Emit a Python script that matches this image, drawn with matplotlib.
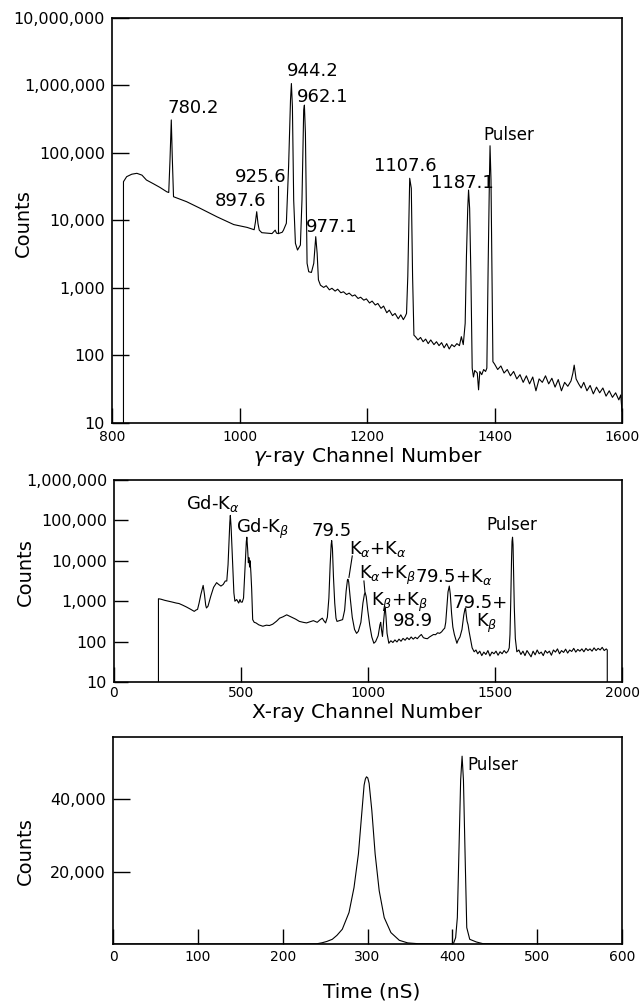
import matplotlib
matplotlib.use("Agg")
import matplotlib.pyplot as plt

plt.rcParams['font.family'] = ['DejaVu Sans']
plt.rcParams['mathtext.fontset'] = 'dejavusans'

# --- gamma-ray spectrum (channel, counts) ---
gamma_channel = [818, 818, 823, 831, 839, 847, 854, 865, 875, 886, 889, 891, 893, 894.5, 896.5,
                 917, 938, 965, 991, 1012, 1023, 1025, 1027, 1029, 1031, 1035, 1051, 1056, 1058,
                 1061, 1067, 1069, 1073.5, 1077, 1080, 1081.4, 1083, 1085, 1087.7, 1091, 1095.5,
                 1098, 1100.7, 1101.8, 1103.4, 1106, 1108.6, 1112.8, 1116.5, 1119.6, 1121.8, 1123.8,
                 1127, 1132, 1136, 1141, 1145, 1150, 1154, 1159, 1163, 1168, 1172, 1177, 1181, 1186,
                 1190, 1195, 1199, 1204, 1208, 1213, 1217, 1222, 1226, 1231, 1235, 1240, 1244, 1249,
                 1253, 1257, 1260, 1262, 1264, 1266, 1267, 1269.5, 1271.5, 1273.6,
                 1276, 1280, 1284, 1288, 1292, 1296, 1300, 1305, 1309, 1313, 1317, 1321, 1325, 1329,
                 1333, 1337, 1341, 1345, 1348, 1351, 1354, 1356, 1358, 1359.3, 1361, 1363, 1365,
                 1367, 1369, 1373, 1375, 1377, 1380, 1383, 1386, 1388, 1390, 1392, 1393, 1394.5,
                 1396, 1397.5, 1400, 1405, 1410, 1415, 1420, 1425, 1430, 1435, 1440, 1445, 1450,
                 1455, 1460, 1465, 1470, 1475, 1480, 1485, 1490, 1495, 1500, 1505, 1510, 1515, 1520,
                 1523, 1525, 1528, 1532, 1536, 1540, 1545, 1550, 1555, 1560, 1565, 1570, 1575, 1580,
                 1585, 1590, 1595, 1598, 1600]
gamma_counts = [10, 37600, 44600, 48500, 50000, 47000, 39800, 35000, 31000, 26600, 26000, 80000,
                309000, 90000, 22500, 19000, 15200, 11300, 8700, 7900, 7300, 9500, 13500, 9000,
                7200, 6600, 6400, 7200, 6500, 6400, 6700, 7200, 9100, 62700, 610000, 1070000,
                485000, 20000, 4600, 3650, 4330, 20000, 434000, 512000, 196000, 2320, 1740, 1700,
                2320, 5760, 3270, 1320,
                1100, 1020, 1080, 940, 990, 900, 960, 850, 880, 800, 840, 760, 790, 700,
                730, 660, 690, 600, 640, 560, 590, 500, 540, 430, 470, 390, 420, 350,
                400, 340, 380, 420, 1500, 15000, 42200, 30000, 1500, 200,
                190, 170, 185, 160, 175, 150, 170, 145, 160, 140, 155, 130, 150, 125,
                145, 135, 150, 140, 190, 145, 300, 3000, 15000, 28300, 15000, 1500, 65,
                48, 60, 55, 31, 58, 52, 62, 58, 65, 2000, 40000, 128000, 40000,
                1500, 81, 75, 62, 70, 55, 62, 50, 58, 45, 52, 40, 50,
                38, 48, 30, 45, 40, 50, 38, 46, 34, 44, 30, 40, 35, 42,
                55, 72, 45, 38, 33, 40, 30, 36, 27, 34, 28, 33, 25, 30,
                24, 28, 22, 26, 15]

gamma_labels = ['780.2', '897.6', '925.6', '944.2', '962.1', '977.1', '1107.6', '1187.1', 'Pulser']

# --- X-ray spectrum (channel, counts) ---
xray_channel = [175, 175, 185, 200, 215, 230, 245, 256, 270, 285, 300, 316, 322, 329, 335, 342,
                351, 356, 361, 364, 370, 381, 392, 404, 412, 421, 430, 438, 444, 449, 453, 456,
                458, 461, 464, 468, 472, 476, 483, 491, 496, 500, 505, 510, 514, 518, 521, 523,
                526, 529, 531, 534, 536, 539, 542, 546, 552, 559, 570, 586, 600, 612, 625, 640,
                652, 665, 680, 690, 700, 715, 730, 745, 758, 772, 785, 800, 812, 820, 826, 833,
                840, 846, 851, 855, 857, 860, 864, 869, 874, 878, 900, 908, 914, 919, 921, 924,
                930, 938, 947, 955, 962, 972, 980, 986, 989, 993, 999, 1007, 1015, 1023, 1030,
                1040, 1047, 1050, 1053, 1057, 1062, 1066, 1068, 1071, 1075, 1082, 1090, 1098,
                1106, 1114, 1122, 1130, 1138, 1146, 1154, 1162, 1170, 1178, 1186, 1194, 1202,
                1210, 1218, 1226, 1234, 1242, 1250, 1258, 1266, 1274, 1282, 1290, 1297, 1302,
                1306, 1311, 1315, 1320, 1324, 1329, 1334, 1340, 1346, 1350, 1355, 1362, 1370,
                1377, 1382, 1384, 1387, 1390, 1394, 1398, 1404, 1410, 1418, 1425, 1432, 1440,
                1448, 1456, 1464, 1472, 1480, 1488, 1496, 1504, 1512, 1520, 1528, 1536, 1544,
                1551, 1556, 1559, 1562, 1565, 1567, 1569, 1571, 1573, 1576, 1580, 1586, 1594,
                1602, 1610, 1618, 1626, 1634, 1642, 1650, 1658, 1666, 1674, 1682, 1690, 1698,
                1706, 1714, 1722, 1730, 1738, 1746, 1754, 1762, 1770, 1778, 1786, 1794, 1802,
                1810, 1818, 1826, 1834, 1842, 1850, 1858, 1866, 1874, 1882, 1890, 1898, 1906,
                1914, 1922, 1930, 1938, 1942, 1942]
xray_counts = [10, 1150, 1120, 1050, 1000, 950, 900, 875, 800, 720, 640, 560, 600, 630, 900, 1470,
               2460, 1500, 800, 680, 750, 1330, 2200, 2880, 2600, 2370, 2600, 3160, 3160, 8000,
               30000, 90000, 133000, 70000, 25000, 6000, 1600, 1000, 1100, 900, 1100, 950, 950,
               1200, 4000, 15000, 30000, 38400, 20000, 9000, 12000, 7000, 10000, 5000, 2000, 350,
               300, 290, 260, 240, 255, 250, 270, 320, 380, 410, 460, 430, 400, 360, 316, 300,
               290, 310, 330, 300, 350, 380, 330, 290, 400, 1200, 8000, 25000, 31600, 20000,
               4000, 900, 380, 316, 350, 600, 1800, 3300, 3500, 3000, 1200, 400, 200, 160, 180,
               300, 900, 1500, 1620, 1300, 600, 250, 130, 91, 100, 140, 260, 300, 200, 134, 350,
               650, 680, 400, 160, 91, 105, 95, 110, 98, 115, 102, 120, 108, 125, 112, 130, 115,
               128, 118, 135, 150, 125, 120, 118, 130, 140, 150, 148, 165, 160, 175, 200, 215,
               300, 800, 1700, 2370, 1500, 500, 230, 150, 110, 91, 110, 130, 200, 450, 650, 680,
               450, 320, 260, 178, 110, 70, 56, 62, 50, 58, 45, 55, 48, 60, 44, 55, 50, 58, 46,
               56, 50, 60, 52, 58, 70, 150, 1000, 10000, 30000, 38400, 25000, 6000, 700, 120, 56,
               62, 48, 58, 45, 60, 50, 42, 58, 47, 62, 50, 55, 45, 60, 52, 58, 46, 62, 55, 66,
               50, 60, 54, 65, 52, 62, 57, 68, 55, 64, 58, 66, 56, 68, 60, 66, 58, 70, 60, 68,
               62, 72, 60, 66, 62, 10]

xray_labels = ['Gd-K$_{\\alpha}$', 'Gd-K$_{\\beta}$', '79.5', 'K$_{\\alpha}$+K$_{\\alpha}$',
               'K$_{\\alpha}$+K$_{\\beta}$', 'K$_{\\beta}$+K$_{\\beta}$', '98.9',
               '79.5+K$_{\\alpha}$', '79.5+', 'K$_{\\beta}$', 'Pulser']

# --- timing spectrum (ns, counts) ---
time_ns = [0, 100, 200, 240, 246.6, 252, 258.5, 264, 270.3, 278.2, 284.1, 289.3, 293.2, 296,
           297.5, 298.8, 300.3, 301.9, 305.1, 309, 313.8, 319.7, 327.6, 337.5, 347.4, 360, 400,
           401.6, 403.9, 405.9, 407.9, 409.8, 411.5, 413.1, 415.1, 417, 420.5, 428.4, 436, 500,
           600]
time_counts = [0, 0, 0, 50, 350, 700, 1300, 2400, 4080, 8700, 15600, 24900, 36000, 43900, 45600,
               46200, 45900, 44400, 36900, 24900, 14700, 7300, 3150, 1020, 300, 80, 0, 300, 1760,
               7300, 26700, 45300, 51900, 45300, 24000, 4530, 1300, 550, 100, 0, 0]

W, H = 640, 1002
fig = plt.figure(figsize=(W / 100, H / 100), dpi=100)


def box(left, top, right, bottom):
    return [left / W, 1 - bottom / H, (right - left) / W, (bottom - top) / H]


def style(ax, ylen=12):
    for s in ax.spines.values():
        s.set_linewidth(1.2)
    ax.tick_params(axis='x', direction='in', length=11, width=1.0, labelsize=10, pad=5)
    ax.tick_params(axis='y', direction='in', length=ylen, width=1.0, labelsize=11.5, pad=5)
    ax.minorticks_off()


def ftext(x, y, s, **kw):
    fig.text(x / W, 1 - y / H, s, ha='center', va='center', **kw)


# top panel: gamma rays
ax1 = fig.add_axes(box(112, 18, 622, 423))
ax1.plot(gamma_channel, gamma_counts, color='black', lw=0.8)
ax1.set_yscale('log')
ax1.set_xlim(800, 1600)
ax1.set_ylim(10, 1e7)
ax1.set_xticks([800, 1000, 1200, 1400, 1600])
ax1.set_yticks([10, 100, 1e3, 1e4, 1e5, 1e6, 1e7])
ax1.set_yticklabels(['10', '100', '1,000', '10,000', '100,000', '1,000,000', '10,000,000'])
style(ax1)
gamma_label_xy = [(928, 10 ** 5.66), (1001, 10 ** 4.29), (1033, 10 ** 4.65), (1115, 10 ** 6.22),
                  (1130, 10 ** 5.83), (1145, 10 ** 3.91), (1260, 10 ** 4.80), (1349, 10 ** 4.56),
                  (1422, 10 ** 5.27)]
for lab, (x, y) in zip(gamma_labels, gamma_label_xy):
    ax1.text(x, y, lab, ha='center', va='center', fontsize=13 if lab != 'Pulser' else 12)
ax1.plot([1060, 1060], [10 ** 4.51, 6500], color='black', lw=0.8)

# middle panel: X-rays
ax2 = fig.add_axes(box(114, 480, 622, 682))
ax2.plot(xray_channel, xray_counts, color='black', lw=0.8)
ax2.set_yscale('log')
ax2.set_xlim(0, 2000)
ax2.set_ylim(10, 1e6)
ax2.set_xticks([0, 500, 1000, 1500, 2000])
ax2.set_yticks([10, 100, 1e3, 1e4, 1e5, 1e6])
ax2.set_yticklabels(['10', '100', '1,000', '10,000', '100,000', '1,000,000'])
style(ax2, ylen=10)
ax2.tick_params(axis='x', pad=3)
xray_label_xy = [(388, 10 ** 5.42), (585, 10 ** 4.79), (855, 10 ** 4.75), (1039, 10 ** 4.29),
                 (1079, 10 ** 3.63), (1125, 10 ** 2.98), (1178, 10 ** 2.5), (1336, 10 ** 3.59),
                 (1441, 10 ** 2.96), (1467, 10 ** 2.46), (1568, 10 ** 4.88)]
for lab, (x, y) in zip(xray_labels, xray_label_xy):
    ax2.text(x, y, lab, ha='center', va='center', fontsize=13 if lab != 'Pulser' else 12)
ax2.plot([938, 925], [10 ** 4.12, 10 ** 3.59], color='black', lw=0.8)
ax2.plot([984, 988], [10 ** 3.5, 10 ** 3.22], color='black', lw=0.8)

# bottom panel: timing
ax3 = fig.add_axes(box(113, 737, 622, 944))
ax3.plot(time_ns, time_counts, color='black', lw=0.8)
ax3.set_xlim(0, 600)
ax3.set_ylim(0, 57200)
ax3.set_xticks([0, 100, 200, 300, 400, 500, 600])
ax3.set_yticks([20000, 40000])
ax3.set_yticklabels(['20,000', '40,000'])
style(ax3)
ax3.tick_params(axis='x', pad=4)
ax3.text(418, 49500, 'Pulser', ha='left', va='center', fontsize=12)

# axis titles
ftext(23, 223, 'Counts', fontsize=14, rotation=90)
ftext(25, 572, 'Counts', fontsize=14, rotation=90)
ftext(25, 851, 'Counts', fontsize=14, rotation=90)
ftext(368, 457, '$\\gamma$-ray Channel Number', fontsize=14.5)
ftext(367, 713, 'X-ray Channel Number', fontsize=14.5)
ftext(372, 992, 'Time (nS)', fontsize=14.5)

fig.savefig('out.png', dpi=100)
